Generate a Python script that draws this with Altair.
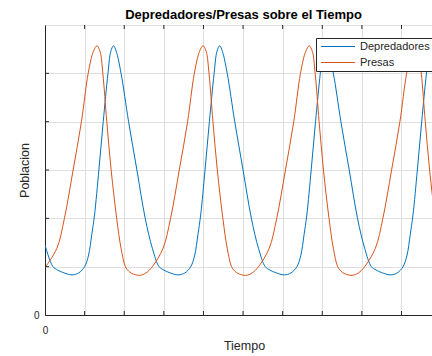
import altair as alt
import pandas as pd

series_names = ["Depredadores", "Presas"]
series_colors = ["#0072BD", "#D95319"]

# Depredadores (predators)
pred_t = [0.00, 0.20, 0.32, 0.45, 0.68,
          0.85, 1.00, 1.10, 1.18, 1.25, 1.36, 1.47, 1.59, 1.66, 1.73, 1.80, 1.92, 2.11, 2.32, 2.53, 2.71, 2.88, 3.00, 3.13, 3.36,
          3.53, 3.68, 3.78, 3.86, 3.93, 4.04, 4.15, 4.27, 4.34, 4.41, 4.48, 4.60, 4.79, 5.00, 5.21, 5.39, 5.56, 5.68, 5.81, 6.04,
          6.21, 6.36, 6.46, 6.54, 6.61, 6.72, 6.83, 6.95, 7.02, 7.09, 7.16, 7.28, 7.47, 7.68, 7.89, 8.07, 8.24, 8.36, 8.49, 8.72,
          8.89, 9.04, 9.14, 9.22, 9.29, 9.40, 9.51, 9.63, 9.70, 9.77, 9.84]
pred_v = [1.45, 1.00, 0.93, 0.88, 0.83,
          0.87, 1.00, 1.24, 1.66, 2.07, 3.00, 4.00, 5.00, 5.45, 5.57, 5.45, 5.00, 4.00, 3.00, 2.00, 1.38, 1.00, 0.93, 0.88, 0.83,
          0.87, 1.00, 1.24, 1.66, 2.07, 3.00, 4.00, 5.00, 5.45, 5.57, 5.45, 5.00, 4.00, 3.00, 2.00, 1.38, 1.00, 0.93, 0.88, 0.83,
          0.87, 1.00, 1.24, 1.66, 2.07, 3.00, 4.00, 5.00, 5.45, 5.57, 5.45, 5.00, 4.00, 3.00, 2.00, 1.38, 1.00, 0.93, 0.88, 0.83,
          0.87, 1.00, 1.24, 1.66, 2.07, 3.00, 4.00, 5.00, 5.45, 5.57, 5.45]

# Presas (prey)
prey_t = [0.00, 0.30, 0.49, 0.71, 0.92, 1.09, 1.22, 1.31, 1.39, 1.46, 1.56, 1.67, 1.81, 1.92, 2.03, 2.11, 2.19, 2.39,
          2.55, 2.71, 2.98, 3.17, 3.39, 3.60, 3.77, 3.90, 3.99, 4.07, 4.14, 4.24, 4.35, 4.49, 4.60, 4.71, 4.79, 4.87, 5.07,
          5.23, 5.39, 5.66, 5.85, 6.07, 6.28, 6.45, 6.58, 6.67, 6.75, 6.82, 6.92, 7.03, 7.17, 7.28, 7.39, 7.47, 7.55, 7.75,
          7.91, 8.07, 8.34, 8.53, 8.75, 8.96, 9.13, 9.26, 9.35, 9.43, 9.50, 9.60, 9.71, 9.85, 9.96]
prey_v = [0.98, 1.38, 2.00, 3.00, 4.00, 5.00, 5.45, 5.57, 5.45, 5.00, 4.00, 3.00, 2.00, 1.38, 1.00, 0.91, 0.86, 0.82,
          0.87, 1.00, 1.38, 2.00, 3.00, 4.00, 5.00, 5.45, 5.57, 5.45, 5.00, 4.00, 3.00, 2.00, 1.38, 1.00, 0.91, 0.86, 0.82,
          0.87, 1.00, 1.38, 2.00, 3.00, 4.00, 5.00, 5.45, 5.57, 5.45, 5.00, 4.00, 3.00, 2.00, 1.38, 1.00, 0.91, 0.86, 0.82,
          0.87, 1.00, 1.38, 2.00, 3.00, 4.00, 5.00, 5.45, 5.57, 5.45, 5.00, 4.00, 3.00, 2.00, 1.38]

x_ticks = [0, 1, 2, 3, 4, 5, 6, 7, 8, 9]
y_ticks = [0, 1, 2, 3, 4, 5, 6]
x_domain = [0, 9.77]
y_domain = [0, 6]

df = pd.concat([
    pd.DataFrame({"t": pred_t, "v": pred_v, "s": series_names[0]}),
    pd.DataFrame({"t": prey_t, "v": prey_v, "s": series_names[1]}),
], ignore_index=True)

FONT = "Liberation Sans"
AX = "#262626"
x_scale = alt.Scale(domain=x_domain, nice=False, zero=False)
y_scale = alt.Scale(domain=y_domain, nice=False, zero=False)

x_axis = alt.Axis(
    values=x_ticks, labelExpr="datum.value == 0 ? '0' : ''", labelFlush=False,
    ticks=False, tickSize=0, labelPadding=10, labelFontSize=10, labelFont=FONT, labelColor=AX,
    domainColor=AX, grid=True, gridColor="#dfdfdf", gridWidth=1,
    title="Tiempo", titleFont=FONT, titleFontSize=12.5, titleFontWeight="normal", titleColor=AX,
    titleX=199, titleY=34, titleBaseline="alphabetic", titleAlign="center")
y_axis = alt.Axis(
    values=y_ticks, labelExpr="datum.value == 0 ? '0' : ''", labelFlush=False,
    ticks=False, tickSize=0, labelPadding=6, labelFontSize=10, labelFont=FONT, labelColor=AX,
    domainColor=AX, grid=True, gridColor="#dfdfdf", gridWidth=1,
    title="Poblacion", titleFont=FONT, titleFontSize=12.5, titleFontWeight="normal", titleColor=AX,
    titleX=-17, titleY=145, titleAngle=270, titleBaseline="alphabetic", titleAlign="center")

lines = alt.Chart(df).mark_line(strokeWidth=1, interpolate="catmull-rom", clip=True).encode(
    x=alt.X("t:Q", scale=x_scale, axis=x_axis),
    y=alt.Y("v:Q", scale=y_scale, axis=y_axis),
    color=alt.Color("s:N", scale=alt.Scale(domain=series_names, range=series_colors), legend=alt.Legend(
        title=None, orient="none", legendX=271, legendY=13,
        symbolType="M-1,0H9", symbolSize=46, symbolStrokeWidth=1, labelOffset=30,
        labelFontSize=11, labelFont=FONT, labelColor=AX, padding=3, rowPadding=4,
        strokeColor=AX, fillColor="white", cornerRadius=0)),
)

xt = pd.DataFrame({"t": x_ticks[1:]})
yt = pd.DataFrame({"v": y_ticks[1:-1]})
bottom_ticks = alt.Chart(xt).mark_rule(color=AX, strokeWidth=1).encode(
    x=alt.X("t:Q", scale=x_scale, axis=x_axis), y=alt.value(290), y2=alt.value(286))
top_ticks = alt.Chart(xt).mark_rule(color=AX, strokeWidth=1).encode(
    x=alt.X("t:Q", scale=x_scale, axis=x_axis), y=alt.value(0), y2=alt.value(4))
left_ticks = alt.Chart(yt).mark_rule(color=AX, strokeWidth=1).encode(
    y=alt.Y("v:Q", scale=y_scale, axis=y_axis), x=alt.value(0), x2=alt.value(4))

chart = alt.layer(lines, bottom_ticks, top_ticks, left_ticks).properties(
    width=387, height=290,
    title=alt.TitleParams("Depredadores/Presas sobre el Tiempo", font=FONT, fontSize=13,
                          fontWeight="bold", color="#000000", anchor="middle", dx=5, offset=3),
    autosize=alt.AutoSizeParams(type="none"),
    padding={"left": 45, "top": 25, "right": 0, "bottom": 41},
).configure(font=FONT).configure_view(stroke=AX, strokeWidth=1)

chart.save("out.html", embed_options={"renderer": "svg", "actions": False})
